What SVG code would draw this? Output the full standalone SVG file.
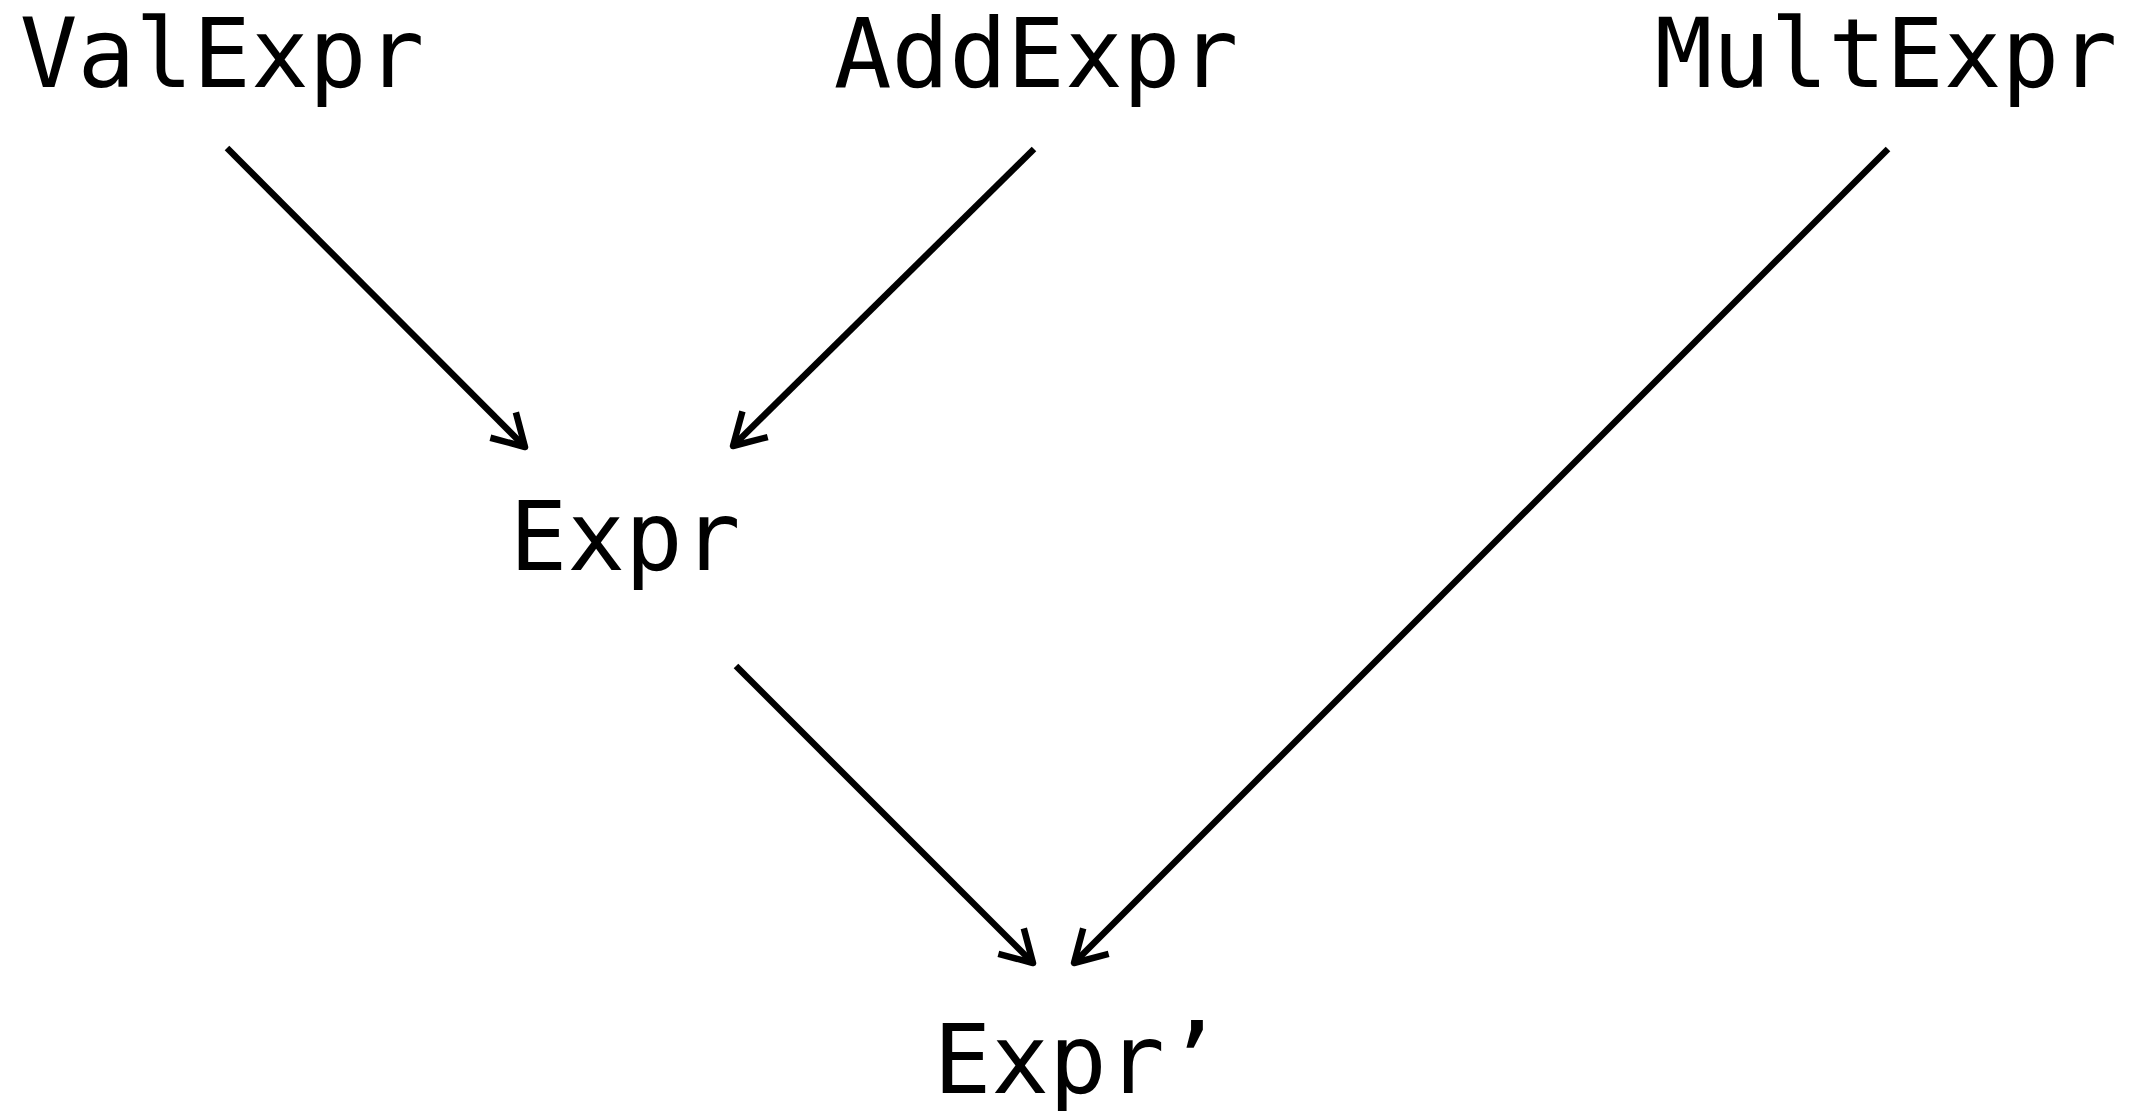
<svg xmlns="http://www.w3.org/2000/svg" width="2140" height="1111" viewBox="0 0 2140 1111">
<style>
.lbl{font-family:"DejaVu Sans Mono","Liberation Mono",monospace;font-size:96px;fill:#000;text-anchor:middle}
.edge{stroke:#000;stroke-width:6.5;fill:none}
</style>
<defs>
<marker id="arr" markerUnits="userSpaceOnUse" markerWidth="80" markerHeight="80" refX="0" refY="0" viewBox="-40 -40 80 80" orient="auto" overflow="visible">
<path d="M-31,-18 L0,0 L-31,18" fill="none" stroke="#000" stroke-width="6.5" stroke-linejoin="round" stroke-linecap="butt"/>
</marker>
</defs>
<rect width="2140" height="1111" fill="#fff"/>
<g id="connectors">
<line class="edge" x1="227" y1="148" x2="525" y2="447" marker-end="url(#arr)"/>
<line class="edge" x1="1034" y1="149" x2="733" y2="446" marker-end="url(#arr)"/>
<line class="edge" x1="1888" y1="149" x2="1074" y2="963" marker-end="url(#arr)"/>
<line class="edge" x1="736" y1="666" x2="1033" y2="963" marker-end="url(#arr)"/>
</g>
<g id="node-valexpr"><text class="lbl" x="222" y="87">ValExpr</text></g>
<g id="node-addexpr"><text class="lbl" x="1036" y="87">AddExpr</text></g>
<g id="node-multexpr"><text class="lbl" x="1886" y="87">MultExpr</text></g>
<g id="node-expr"><text class="lbl" x="625" y="570">Expr</text></g>
<g id="node-exprprime"><text class="lbl" x="1078" y="1093">Expr’</text></g>
</svg>
